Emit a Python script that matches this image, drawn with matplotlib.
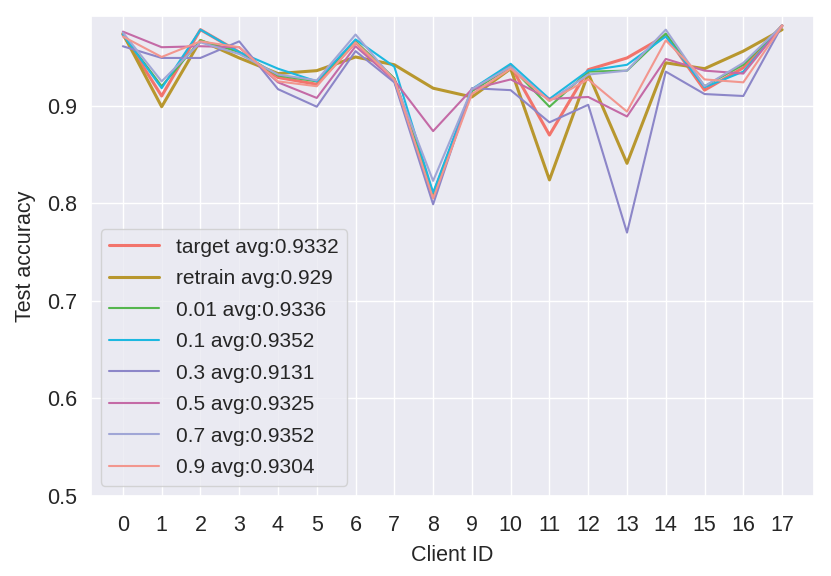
import matplotlib
matplotlib.use("Agg")
import matplotlib.pyplot as plt
import seaborn as sns

sns.set_theme(style="darkgrid")
plt.rcParams['font.family'] = ['Liberation Sans', 'DejaVu Sans']

clients = list(range(18))

target = [0.973, 0.910, 0.978, 0.955, 0.929, 0.922, 0.965, 0.927, 0.806, 0.916,
          0.941, 0.870, 0.937, 0.949, 0.972, 0.916, 0.939, 0.982]
retrain = [0.974, 0.899, 0.967, 0.949, 0.933, 0.936, 0.950, 0.942, 0.918, 0.909,
           0.938, 0.824, 0.933, 0.841, 0.944, 0.938, 0.956, 0.978]
r001 = [0.973, 0.920, 0.967, 0.955, 0.931, 0.925, 0.966, 0.928, 0.810, 0.915,
        0.940, 0.899, 0.935, 0.936, 0.974, 0.920, 0.942, 0.982]
r01 = [0.973, 0.918, 0.978, 0.955, 0.938, 0.925, 0.968, 0.940, 0.811, 0.917,
       0.943, 0.907, 0.936, 0.942, 0.971, 0.919, 0.935, 0.982]
r03 = [0.961, 0.949, 0.949, 0.966, 0.917, 0.899, 0.956, 0.924, 0.799, 0.918,
       0.916, 0.883, 0.901, 0.770, 0.935, 0.912, 0.910, 0.982]
r05 = [0.976, 0.960, 0.961, 0.960, 0.924, 0.908, 0.961, 0.926, 0.874, 0.917,
       0.927, 0.907, 0.909, 0.889, 0.948, 0.936, 0.933, 0.982]
r07 = [0.975, 0.925, 0.965, 0.953, 0.932, 0.926, 0.973, 0.926, 0.823, 0.917,
       0.940, 0.905, 0.932, 0.936, 0.978, 0.920, 0.944, 0.982]
r09 = [0.971, 0.950, 0.966, 0.960, 0.925, 0.920, 0.965, 0.927, 0.805, 0.912,
       0.938, 0.905, 0.927, 0.894, 0.967, 0.927, 0.924, 0.982]

labels = ["target avg:0.9332", "retrain avg:0.929", "0.01 avg:0.9336", "0.1 avg:0.9352",
          "0.3 avg:0.9131", "0.5 avg:0.9325", "0.7 avg:0.9352", "0.9 avg:0.9304"]
series = [target, retrain, r001, r01, r03, r05, r07, r09]
colors = ["#F2746C", "#B8972E", "#55B64E", "#1CB8E0", "#8C86C8", "#C46AA6", "#A0A6D6", "#F2968E"]
widths = [2.2, 2.2, 1.5, 1.5, 1.5, 1.5, 1.5, 1.5]

fig = plt.figure(figsize=(8.31, 5.76), dpi=100)
ax = fig.add_axes([90.7/831, 80/576, (814.3-90.7)/831, 480/576])

for s, lab, c, w in zip(series, labels, colors, widths):
    ax.plot(clients, s, color=c, lw=w, label=lab)

ax.set_xticks(clients)
ax.set_xlim(-0.83, 17.83)
ax.set_ylim(0.5, 0.992)
ax.set_yticks([0.5, 0.6, 0.7, 0.8, 0.9])
ax.tick_params(labelsize=15.5)
ax.tick_params(axis="x", pad=8)
ax.set_xlabel("Client ID", fontsize=15.5, labelpad=6)
ax.set_ylabel("Test accuracy", fontsize=15.5, labelpad=8)
ax.legend(loc="lower left", fontsize=15, handlelength=2.4, labelspacing=0.6)

fig.savefig("out.png", dpi=100)
